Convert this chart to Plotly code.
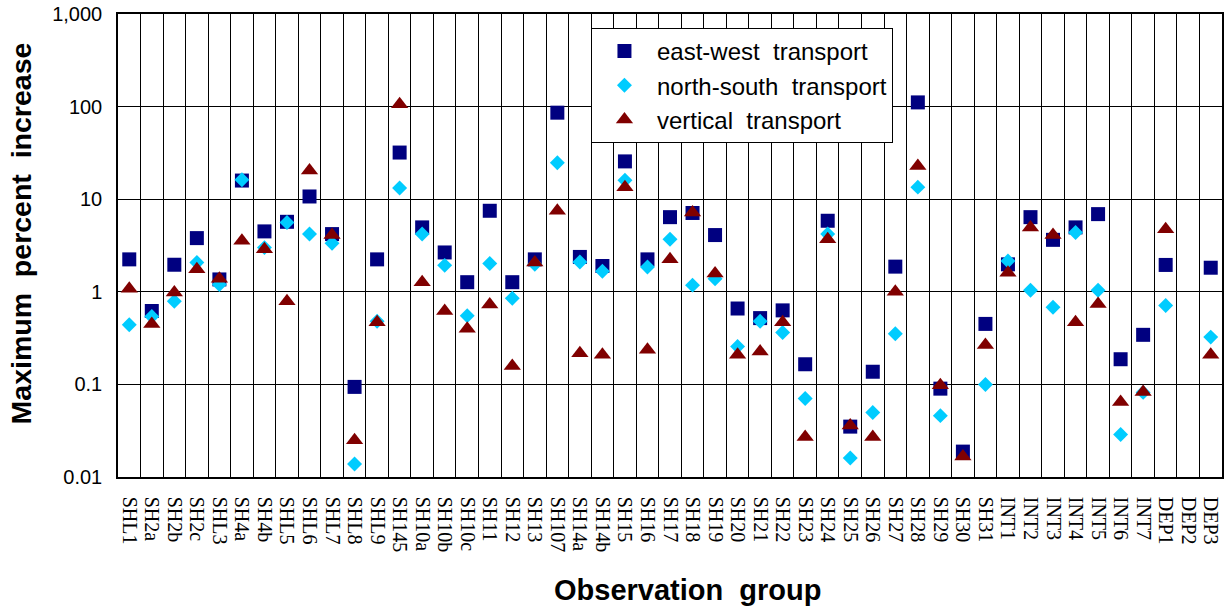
import plotly.graph_objects as go

categories = ["SHL1", "SH2a", "SH2b", "SH2c", "SHL3", "SH4a", "SH4b", "SHL5", "SHL6", "SHL7",
              "SHL8", "SHL9", "SH145", "SH10a", "SH10b", "SH10c", "SH11", "SH12", "SH13", "SH107",
              "SH14a", "SH14b", "SH15", "SH16", "SH17", "SH18", "SH19", "SH20", "SH21", "SH22",
              "SH23", "SH24", "SH25", "SH26", "SH27", "SH28", "SH29", "SH30", "SH31", "INT1",
              "INT2", "INT3", "INT4", "INT5", "INT6", "INT7", "DEP1", "DEP2", "DEP3"]

east_west = [2.24, 0.62, 1.96, 3.8, 1.36, 15.9, 4.49, 5.7, 10.7, 4.2,
             0.094, 2.24, 31.9, 4.96, 2.66, 1.27, 7.5, 1.27, 2.24, 86,
             2.38, 1.9, 25.6, 2.24, 6.4, 7.1, 4.1, 0.66, 0.52, 0.63,
             0.165, 5.85, 0.035, 0.137, 1.87, 111, 0.09, 0.0188, 0.45, 1.98,
             6.4, 3.64, 4.96, 6.9, 0.187, 0.343, 1.95, None, 1.82]

north_south = [0.44, 0.54, 0.79, 2.07, 1.2, 16.2, 3.0, 5.6, 4.2, 3.35,
               0.0138, 0.48, 13.2, 4.2, 1.93, 0.55, 2.02, 0.85, 1.98, 24.8,
               2.1, 1.67, 16.0, 1.85, 3.7, 1.18, 1.38, 0.256, 0.48, 0.364,
               0.0705, 4.2, 0.016, 0.0496, 0.352, 13.5, 0.046, None, 0.1, 2.15,
               1.04, 0.68, 4.38, 1.04, 0.0288, 0.082, 0.71, None, 0.324]

vertical = [1.08, 0.45, 0.98, 1.75, 1.38, 3.55, 2.88, 0.79, 20.4, 4.1,
            0.025, 0.47, 106, 1.27, 0.62, 0.40, 0.73, 0.158, 2.07, 7.5,
            0.217, 0.209, 13.5, 0.236, 2.24, 7.2, 1.58, 0.209, 0.226, 0.47,
            0.027, 3.7, 0.036, 0.027, 1.0, 22.8, 0.098, 0.0166, 0.267, 1.61,
            4.96, 4.1, 0.47, 0.74, 0.0647, 0.083, 4.75, None, 0.209]

y_tick_vals = [0.01, 0.1, 1, 10, 100, 1000]
y_tick_text = ["0.01", "0.1", "1", "10", "100", "1,000"]

x_title = "Observation  group"
y_title = "Maximum  percent  increase"

fig = go.Figure()
fig.add_trace(go.Scatter(x=categories, y=east_west, mode="markers", name="east-west  transport",
                         marker=dict(symbol="square", size=14, color="#000080")))
fig.add_trace(go.Scatter(x=categories, y=north_south, mode="markers", name="north-south  transport",
                         marker=dict(symbol="diamond", size=11.5, color="#00CCFF")))
fig.add_trace(go.Scatter(x=categories, y=vertical, mode="markers", name="vertical  transport",
                         marker=dict(symbol="triangle-up", size=15, color="#800000")))

fig.update_layout(
    width=1224, height=609,
    margin=dict(l=118, r=2, t=14, b=132),
    paper_bgcolor="white", plot_bgcolor="white",
    font=dict(family="Liberation Sans, Arial, sans-serif", color="black"),
    showlegend=True,
    legend=dict(x=0.4284, y=0.97, xanchor="left", yanchor="top",
                bgcolor="white", bordercolor="black", borderwidth=1,
                itemwidth=55,
                font=dict(size=24, family="Liberation Sans, Arial, sans-serif")),
    annotations=[
        dict(text="<b>" + x_title + "</b>", xref="paper", yref="paper",
             x=0.5154, y=-0.244, xanchor="center", yanchor="middle",
             showarrow=False, font=dict(size=29, color="black")),
        dict(text="<b>" + y_title + "</b>", xref="paper", yref="paper",
             x=-0.0870, y=0.526, xanchor="center", yanchor="middle", textangle=-90,
             showarrow=False, font=dict(size=28.5, color="black")),
    ],
)

fig.update_xaxes(
    type="category", categoryorder="array", categoryarray=categories,
    range=[-0.5, len(categories) - 0.5],
    tickmode="array", tickvals=categories, ticktext=categories,
    tickson="boundaries", showgrid=True, gridcolor="black", gridwidth=1,
    tickangle=90, ticks="",
    tickfont=dict(family="Liberation Serif, Times New Roman, serif", size=20, color="black"),
    ticklabelstandoff=14,
    showline=True, linecolor="black", linewidth=1.5, mirror=True,
    automargin=False,
)

fig.update_yaxes(
    type="log", range=[-2, 3],
    tickvals=y_tick_vals, ticktext=y_tick_text,
    showgrid=True, gridcolor="black", gridwidth=1,
    ticks="", tickfont=dict(size=20, color="black"), ticklabelstandoff=10,
    showline=True, linecolor="black", linewidth=1.5, mirror=True,
    zeroline=False,
    automargin=False,
)

fig.write_html("out.html")
